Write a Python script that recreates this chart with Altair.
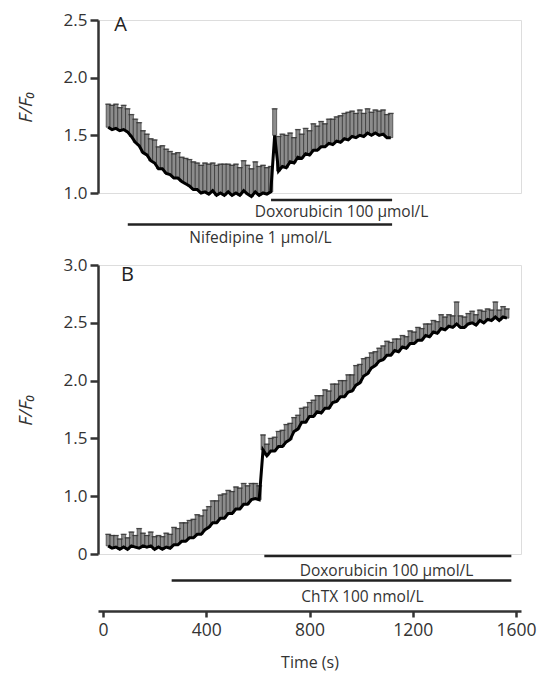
import altair as alt
import pandas as pd

# ---------------- data ----------------
A_time = list(range(20, 1116, 15))
A_mean = [1.57, 1.55, 1.56, 1.54, 1.55, 1.53, 1.49, 1.44, 1.41, 1.35,
          1.33, 1.28, 1.26, 1.21, 1.21, 1.17, 1.16, 1.13, 1.13, 1.10,
          1.08, 1.06, 1.03, 1.03, 1.00, 1.01, 0.99, 1.02, 0.98, 1.00,
          0.98, 1.01, 0.98, 1.00, 0.98, 1.02, 0.99, 0.97, 1.01, 0.98,
          1.00, 0.99, 1.01, 1.50, 1.19, 1.23, 1.22, 1.27, 1.26, 1.31,
          1.30, 1.34, 1.33, 1.37, 1.37, 1.40, 1.40, 1.43, 1.42, 1.45,
          1.44, 1.47, 1.46, 1.49, 1.48, 1.50, 1.49, 1.52, 1.50, 1.52,
          1.50, 1.51, 1.48, 1.48]
A_sem = [0.20, 0.21, 0.21, 0.20, 0.21, 0.20, 0.19, 0.20, 0.20, 0.19,
         0.18, 0.19, 0.20, 0.19, 0.20, 0.21, 0.20, 0.21, 0.22, 0.21,
         0.22, 0.23, 0.24, 0.23, 0.24, 0.25, 0.26, 0.24, 0.26, 0.25,
         0.27, 0.24, 0.26, 0.25, 0.24, 0.26, 0.25, 0.24, 0.26, 0.25,
         0.24, 0.23, 0.22, 0.23, 0.30, 0.28, 0.28, 0.25, 0.22, 0.24,
         0.21, 0.22, 0.21, 0.23, 0.21, 0.22, 0.20, 0.21, 0.22, 0.21,
         0.23, 0.22, 0.24, 0.22, 0.21, 0.22, 0.20, 0.21, 0.20, 0.20,
         0.21, 0.21, 0.20, 0.21]

B_time = list(range(20, 1566, 15))
B_mean = [0.57, 0.55, 0.56, 0.54, 0.56, 0.54, 0.57, 0.56, 0.55, 0.57,
          0.56, 0.57, 0.54, 0.56, 0.54, 0.56, 0.55, 0.58, 0.58, 0.61,
          0.61, 0.64, 0.64, 0.67, 0.67, 0.71, 0.73, 0.77, 0.77, 0.81,
          0.81, 0.85, 0.85, 0.89, 0.89, 0.93, 0.93, 0.97, 0.98, 0.97,
          1.40, 1.35, 1.39, 1.39, 1.43, 1.43, 1.47, 1.49, 1.56, 1.58,
          1.64, 1.64, 1.69, 1.69, 1.73, 1.72, 1.76, 1.76, 1.81, 1.82,
          1.86, 1.86, 1.90, 1.91, 1.96, 1.98, 2.04, 2.06, 2.11, 2.13,
          2.17, 2.18, 2.22, 2.22, 2.26, 2.25, 2.29, 2.28, 2.32, 2.32,
          2.35, 2.35, 2.39, 2.38, 2.42, 2.41, 2.45, 2.44, 2.47, 2.46,
          2.49, 2.46, 2.46, 2.49, 2.50, 2.48, 2.52, 2.50, 2.53, 2.52,
          2.55, 2.52, 2.55, 2.54]
B_sem = [0.10, 0.11, 0.10, 0.09, 0.11, 0.10, 0.12, 0.10, 0.17, 0.11,
         0.10, 0.12, 0.11, 0.10, 0.11, 0.12, 0.12, 0.15, 0.14, 0.16,
         0.16, 0.15, 0.16, 0.17, 0.16, 0.17, 0.18, 0.19, 0.19, 0.20,
         0.21, 0.20, 0.19, 0.19, 0.18, 0.18, 0.16, 0.14, 0.13, 0.12,
         0.13, 0.10, 0.11, 0.12, 0.13, 0.14, 0.15, 0.14, 0.12, 0.12,
         0.12, 0.13, 0.12, 0.14, 0.14, 0.15, 0.16, 0.15, 0.16, 0.15,
         0.14, 0.14, 0.15, 0.14, 0.17, 0.16, 0.15, 0.14, 0.13, 0.12,
         0.11, 0.12, 0.12, 0.11, 0.10, 0.11, 0.10, 0.10, 0.11, 0.10,
         0.11, 0.10, 0.10, 0.11, 0.10, 0.10, 0.12, 0.11, 0.10, 0.10,
         0.19, 0.10, 0.09, 0.09, 0.10, 0.09, 0.09, 0.10, 0.09, 0.09,
         0.13, 0.09, 0.09, 0.08]

# drug application periods (s)
A_drug_names = ["Doxorubicin 100 μmol/L", "Nifedipine 1 μmol/L"]
A_drug_start = [651, 96]
A_drug_end = [1120, 1120]
B_drug_names = ["Doxorubicin 100 μmol/L", "ChTX 100 nmol/L"]
B_drug_start = [625, 266]
B_drug_end = [1582, 1582]

x_ticks = [0, 400, 800, 1200, 1600]
A_yticks = [1.0, 1.5, 2.0, 2.5]
B_yticks = [0.5, 1.0, 1.5, 2.0, 2.5, 3.0]

# ---------------- styling ----------------
FONT = "Open Sans"
INK = "#333333"
W = 423
HA = 173
HB = 289

dfA = pd.DataFrame({"t": A_time, "mean": A_mean, "sem": A_sem})
dfA["upper"] = dfA["mean"] + dfA["sem"]
dfB = pd.DataFrame({"t": B_time, "mean": B_mean, "sem": B_sem})
dfB["upper"] = dfB["mean"] + dfB["sem"]

x_scale = alt.Scale(domain=[0, 1600], nice=False, zero=False)


def y_axis(values, height, label_expr=None):
    kw = dict(
        values=values, format=".1f", grid=False,
        tickSize=8, tickWidth=2.5, tickColor=INK,
        domainWidth=2.5, domainColor=INK,
        labelFontSize=17, labelColor=INK, labelPadding=3, labelFont=FONT,
        title="F/F₀", titleFont=FONT, titleFontSize=19, titleFontStyle="italic",
        titleFontWeight="normal", titleColor=INK,
        titleX=-72.5, titleY=height / 2, titleAngle=270, titleBaseline="middle",
        titleAlign="center",
    )
    if label_expr:
        kw["labelExpr"] = label_expr
    return alt.Axis(**kw)


def panel(df, ydomain, yaxis, xaxis, height, label, label_xy,
          names, starts, ends, rule_y, text_xy):
    yscale = alt.Scale(domain=ydomain, nice=False, zero=False)
    base = alt.Chart(df)
    bars = base.mark_bar(width=4, color="#8c8c8c", stroke="#222222",
                         strokeWidth=0.6).encode(
        x=alt.X("t:Q", scale=x_scale, axis=xaxis),
        y=alt.Y("mean:Q", scale=yscale, axis=yaxis),
        y2="upper:Q",
    )
    caps = base.mark_tick(orient="horizontal", size=6, thickness=1.3,
                          color="#333333").encode(
        x="t:Q", y="upper:Q")
    line = base.mark_line(color="#000000", strokeWidth=3).encode(
        x="t:Q", y="mean:Q")
    layers = [bars, caps, line]
    for name, s, e, ry, (tx, ty) in zip(names, starts, ends, rule_y, text_xy):
        rd = pd.DataFrame({"start": [s], "end": [e], "name": [name]})
        layers.append(alt.Chart(rd).mark_rule(strokeWidth=2.5, color="#222222").encode(
            x="start:Q", x2="end:Q", y=alt.value(ry)))
        layers.append(alt.Chart(rd).mark_text(font=FONT, fontSize=15.5, color=INK,
                                              baseline="middle", align="center").encode(
            text="name:N", x=alt.value(tx), y=alt.value(ty)))
    ld = pd.DataFrame({"label": [label]})
    layers.append(alt.Chart(ld).mark_text(font=FONT, fontSize=20, color="#222222",
                                          baseline="middle", align="center").encode(
        text="label:N", x=alt.value(label_xy[0]), y=alt.value(label_xy[1])))
    return alt.layer(*layers).properties(width=W, height=height)


chartA = panel(
    dfA, [1.0, 2.5], y_axis(A_yticks, HA), None, HA, "A", (22.5, 5),
    A_drug_names, A_drug_start, A_drug_end, [180, 204.4],
    [(243.5, 192), (162.5, 218)],
)

x_axis_B = alt.Axis(
    values=x_ticks, format="d", grid=False, offset=57, tickSize=6, tickWidth=2.5,
    tickColor=INK, domainWidth=2.5, domainColor=INK,
    labelFontSize=17.5, labelColor=INK, labelPadding=4, labelFont=FONT,
    title="Time (s)", titleFont=FONT, titleFontSize=16, titleFontWeight="normal",
    titleColor=INK, titlePadding=16,
)
chartB = panel(
    dfB, [0.5, 3.0],
    y_axis(B_yticks, HB, "datum.value == 0.5 ? '0' : format(datum.value, '.1f')"),
    x_axis_B, HB, "B", (29.5, 10),
    B_drug_names, B_drug_start, B_drug_end, [291, 315.5],
    [(288.5, 306), (264.5, 332)],
)

chart = alt.vconcat(chartA, chartB, spacing=72, bounds="flush").properties(
    padding={"left": 8, "top": 2, "right": 5, "bottom": 3},
    background="white",
).configure_view(stroke=None).configure(font=FONT)

chart.save("out.html", embed_options={"renderer": "svg", "actions": False})
